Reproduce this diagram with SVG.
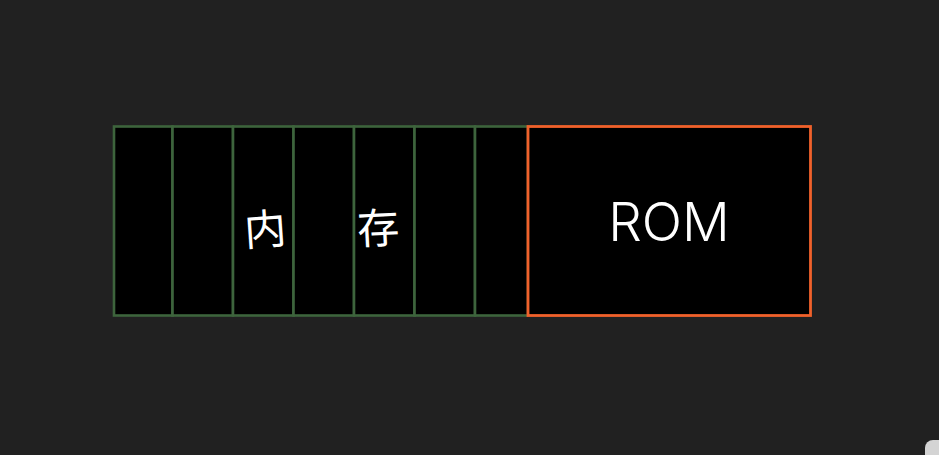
<svg xmlns="http://www.w3.org/2000/svg" width="939" height="455" viewBox="0 0 939 455">
<style>
.cell{fill:#000;stroke:#3d643c;stroke-width:2.6}
.rom{fill:#000;stroke:#f0612b;stroke-width:2.8}
.t{fill:#fff;text-anchor:middle;dominant-baseline:central}
.cjk{font-family:"Noto Sans CJK SC",sans-serif;font-size:42px;font-weight:400}
.lat{font-family:Inter,"Liberation Sans",sans-serif;font-size:53px;font-weight:300}
</style>
<rect width="939" height="455" fill="#212121"/>
<g id="memory">
<rect class="cell" x="114" y="126.5" width="58.5" height="189"/>
<rect class="cell" x="172.5" y="126.5" width="60.5" height="189"/>
<rect class="cell" x="233" y="126.5" width="60.5" height="189"/>
<rect class="cell" x="293.5" y="126.5" width="60.5" height="189"/>
<rect class="cell" x="354" y="126.5" width="60.5" height="189"/>
<rect class="cell" x="414.5" y="126.5" width="60.5" height="189"/>
<rect class="cell" x="475" y="126.5" width="53" height="189"/>
<text class="t cjk" x="265" y="226" transform="rotate(-4 265 226)">内</text>
<text class="t cjk" x="378" y="225" transform="rotate(-3 378 225)">存</text>
</g>
<g id="rom">
<rect class="rom" x="528" y="126.5" width="282.5" height="189"/>
<text class="t lat" x="669" y="222">ROM</text>
</g>
<g id="connectors"/>
<rect x="925" y="440" width="30" height="30" rx="8" fill="#d4d4d4"/>
</svg>
